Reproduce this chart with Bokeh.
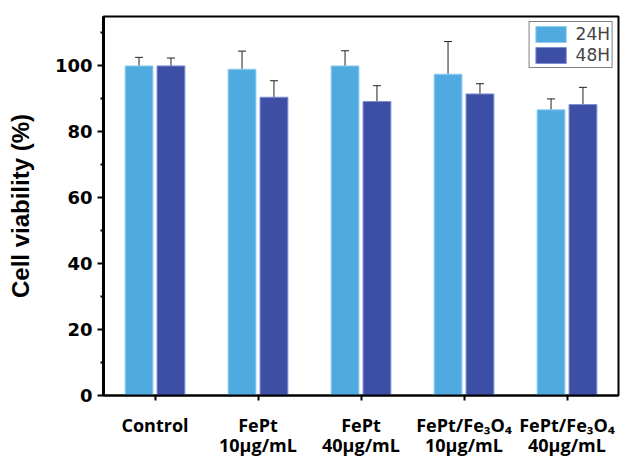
import numpy as np
from bokeh.plotting import figure
from bokeh.models import (ColumnDataSource, FixedTicker, Range1d, Whisker, TeeHead,
                          Legend, LegendItem)
from bokeh.transform import dodge
from bokeh.embed import file_html
from bokeh.resources import INLINE

# ---- data ----
categories = ["Control", "FePt\n10μg/mL", "FePt\n40μg/mL", "FePt/Fe₃O₄\n10μg/mL", "FePt/Fe₃O₄\n40μg/mL"]
series_names = ["24H", "48H"]
v24 = [100.0, 99.0, 100.0, 97.5, 86.7]
e24 = [2.6, 5.5, 4.6, 9.9, 3.3]
v48 = [100.0, 90.5, 89.2, 91.5, 88.3]
e48 = [2.4, 5.0, 4.8, 3.1, 5.2]
y_ticks = [0, 20, 40, 60, 80, 100]
y_minor = [10, 30, 50, 70, 90, 110]

x = list(range(1, len(categories) + 1))
src = ColumnDataSource(dict(
    x=x, v24=v24, v48=v48,
    lo24=[v - e for v, e in zip(v24, e24)], hi24=[v + e for v, e in zip(v24, e24)],
    lo48=[v - e for v, e in zip(v48, e48)], hi48=[v + e for v, e in zip(v48, e48)],
))

c24 = "#50aae0"
c48 = "#3d4fa5"

p = figure(width=630, height=459, output_backend="svg", toolbar_location=None,
           x_range=Range1d(0.5, 5.5), y_range=Range1d(0, 115),
           min_border_left=103, min_border_right=12, min_border_top=16, min_border_bottom=64)
p.background_fill_color = "white"
p.border_fill_color = "white"
p.outline_line_color = "black"
p.outline_line_width = 2
p.grid.visible = False

off = 0.155
w = 0.27
r24 = p.vbar(x=dodge("x", -off), top="v24", bottom=0, width=w, source=src,
             fill_color=c24, line_color="#8fd0f2", line_width=1)
r48 = p.vbar(x=dodge("x", off), top="v48", bottom=0, width=w, source=src,
             fill_color=c48, line_color="#7f8fd0", line_width=1)

for lo, hi, o in (("lo24", "hi24", -off), ("lo48", "hi48", off)):
    wk = Whisker(base=dodge("x", o), lower=lo, upper=hi, source=src,
                 line_color="#222222", line_width=1,
                 upper_head=TeeHead(size=8, line_color="#222222", line_width=1),
                 lower_head=TeeHead(size=8, line_color="#222222", line_width=1))
    p.add_layout(wk)

# x axis
p.xaxis.ticker = FixedTicker(ticks=x, minor_ticks=[])
p.xaxis.major_label_overrides = {i: c for i, c in zip(x, categories)}
p.xaxis.major_label_text_font = "Open Sans"
p.xaxis.major_label_text_font_style = "bold"
p.xaxis.major_label_text_font_size = "18px"
p.xaxis.major_label_text_color = "black"
p.xaxis.major_label_text_line_height = 0.85
p.xaxis.major_label_standoff = 12
p.xaxis.axis_label_standoff = 0
p.xaxis.major_tick_in = 0
p.xaxis.major_tick_out = 5
p.xaxis.major_tick_line_width = 2
p.xaxis.axis_line_width = 2

# y axis
p.yaxis.ticker = FixedTicker(ticks=y_ticks, minor_ticks=y_minor)
p.yaxis.major_label_text_font = "DejaVu Sans"
p.yaxis.major_label_text_font_style = "bold"
p.yaxis.major_label_text_font_size = "18px"
p.yaxis.major_label_text_color = "black"
p.yaxis.major_tick_in = 0
p.yaxis.major_tick_out = 6
p.yaxis.major_tick_line_width = 2
p.yaxis.minor_tick_in = 0
p.yaxis.minor_tick_out = 3
p.yaxis.minor_tick_line_width = 2
p.yaxis.axis_line_width = 3
p.yaxis.major_label_standoff = 5
p.yaxis.axis_label = "Cell viability (%)"
p.yaxis.axis_label_text_font = "Liberation Sans"
p.yaxis.axis_label_text_font_style = "bold"
p.yaxis.axis_label_text_font_size = "24px"
p.yaxis.axis_label_text_color = "black"
p.yaxis.axis_label_standoff = 18

legend = Legend(items=[LegendItem(label=series_names[0], renderers=[r24]),
                       LegendItem(label=series_names[1], renderers=[r48])],
                location="top_right")
legend.border_line_color = "black"
legend.border_line_width = 1
legend.padding = 2
legend.spacing = 1
legend.margin = 5
legend.glyph_width = 38
legend.glyph_height = 20
legend.label_standoff = 6
legend.label_text_font = "DejaVu Sans"
legend.label_text_font_size = "17px"
legend.label_height = 20
p.add_layout(legend)

open("out.html", "w").write(file_html(p, INLINE))
